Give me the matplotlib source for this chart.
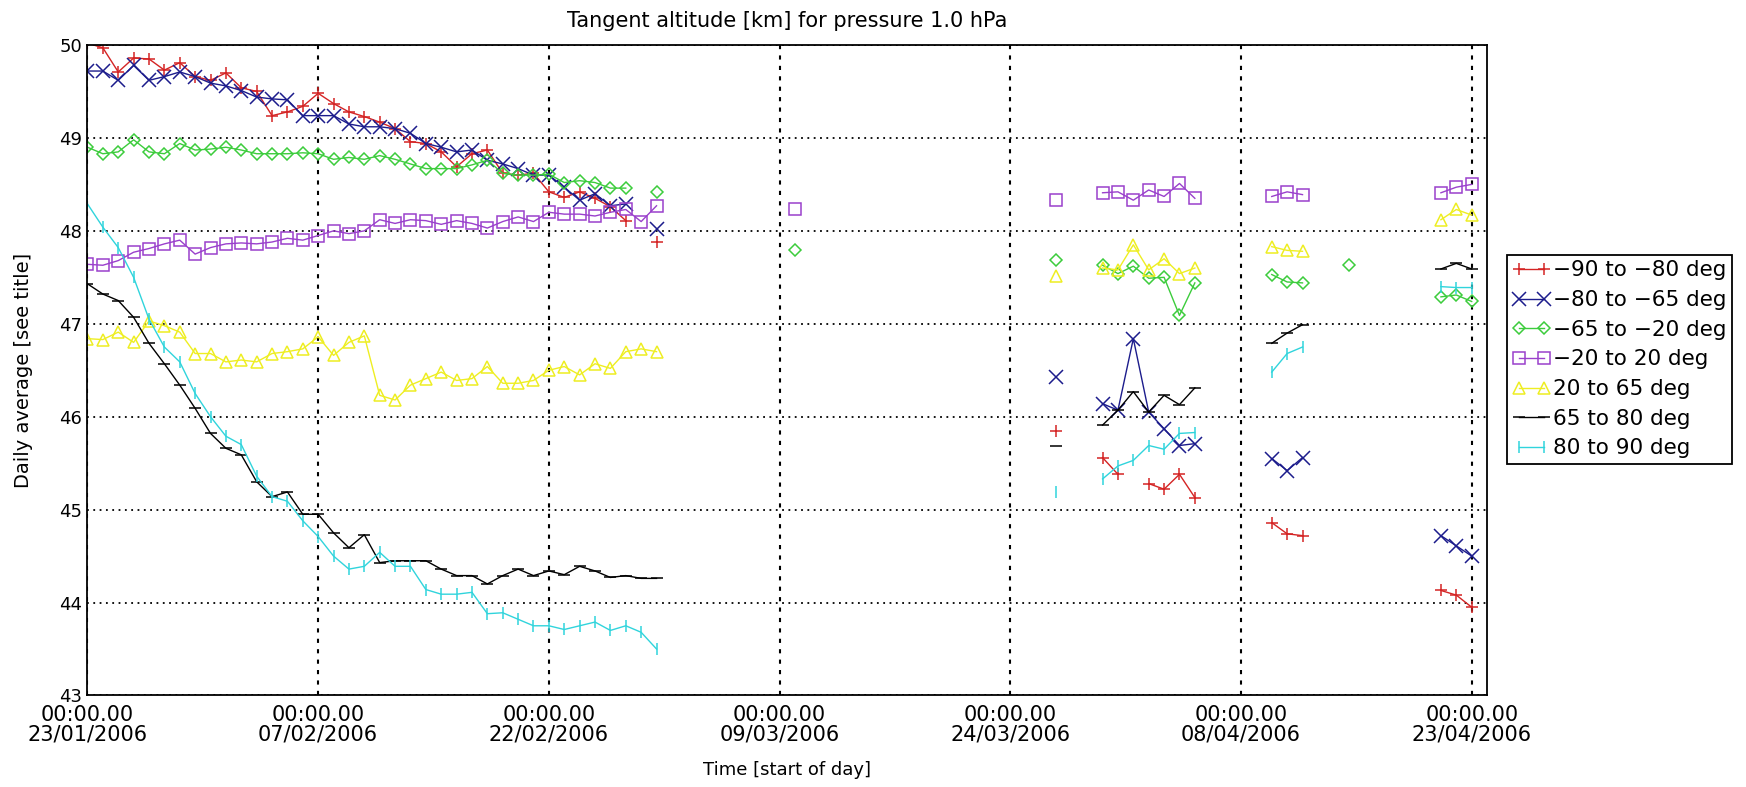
import datetime as dt
import numpy as np
import matplotlib
matplotlib.use("Agg")
import matplotlib.pyplot as plt

nan = np.nan
start_date = dt.datetime(2006, 1, 23)
tick_days = [0, 15, 30, 45, 60, 75, 90]

# daily averages, days counted from 23/01/2006
# block a: days 0-37, b: day 46, c: days 63-72, d: days 77-79, e: day 82, f: days 88-90
red_a = [50.02, 49.97, 49.71, 49.86, 49.85, 49.73, 49.81, 49.66, 49.62, 49.70, 49.54, 49.50,
         49.24, 49.28, 49.34, 49.48, 49.37, 49.28, 49.23, 49.17, 49.10, 48.96, 48.94, 48.85,
         48.69, 48.83, 48.87, 48.62, 48.60, 48.62, 48.42, 48.36, 48.42, 48.35, 48.26, 48.11,
         nan, 47.88]
red_c = [45.85, nan, nan, 45.56, 45.38, nan, 45.28, 45.22, 45.38, 45.13]
red_d = [44.86, 44.74, 44.72]
red_f = [44.13, 44.08, 43.95]

blue_a = [49.72, 49.72, 49.62, 49.78, 49.62, 49.66, 49.71, 49.66, 49.59, 49.56, 49.51, 49.44,
          49.42, 49.41, 49.24, 49.24, 49.24, 49.15, 49.12, 49.12, 49.10, 49.05, 48.94, 48.90,
          48.85, 48.87, 48.76, 48.72, 48.67, 48.60, 48.60, 48.47, 48.33, 48.40, 48.27, 48.29,
          nan, 48.02]
blue_c = [46.43, nan, nan, 46.14, 46.07, 46.84, 46.05, 45.87, 45.69, 45.71]
blue_d = [45.55, 45.42, 45.56]
blue_f = [44.72, 44.61, 44.50]

green_a = [48.90, 48.83, 48.85, 48.98, 48.85, 48.83, 48.94, 48.87, 48.88, 48.90, 48.87, 48.83,
           48.83, 48.83, 48.84, 48.83, 48.77, 48.79, 48.77, 48.81, 48.77, 48.72, 48.67, 48.67,
           48.67, 48.71, 48.76, 48.62, 48.60, 48.60, 48.61, 48.52, 48.54, 48.52, 48.46, 48.46,
           nan, 48.42]
green_b = 47.79
green_c = [47.69, nan, nan, 47.63, 47.54, 47.62, 47.49, 47.50, 47.09, 47.44]
green_d = [47.53, 47.45, 47.44]
green_e = 47.63
green_f = [47.29, 47.31, 47.24]

purple_a = [47.64, 47.63, 47.68, 47.77, 47.81, 47.86, 47.90, 47.75, 47.82, 47.86, 47.87, 47.86,
            47.88, 47.92, 47.90, 47.95, 48.00, 47.97, 48.00, 48.12, 48.08, 48.12, 48.11, 48.07,
            48.11, 48.08, 48.03, 48.10, 48.15, 48.10, 48.20, 48.18, 48.18, 48.16, 48.20, 48.23,
            48.10, 48.27]
purple_b = 48.23
purple_c = [48.33, nan, nan, 48.41, 48.42, 48.33, 48.44, 48.37, 48.51, 48.35]
purple_d = [48.37, 48.42, 48.39]
purple_f = [48.41, 48.47, 48.50]

yellow_a = [46.84, 46.83, 46.91, 46.80, 47.03, 46.98, 46.91, 46.68, 46.68, 46.59, 46.61, 46.59,
            46.68, 46.70, 46.73, 46.86, 46.66, 46.80, 46.87, 46.23, 46.18, 46.34, 46.41, 46.48,
            46.39, 46.41, 46.54, 46.36, 46.36, 46.39, 46.50, 46.54, 46.45, 46.57, 46.52, 46.70,
            46.73, 46.70]
yellow_c = [47.51, nan, nan, 47.60, 47.58, 47.85, 47.58, 47.70, 47.54, 47.60]
yellow_d = [47.83, 47.79, 47.78]
yellow_f = [48.12, 48.23, 48.17]

black_a = [47.43, 47.32, 47.25, 47.07, 46.79, 46.57, 46.34, 46.09, 45.82, 45.66, 45.59, 45.30,
           45.14, 45.19, 44.95, 44.95, 44.75, 44.59, 44.73, 44.43, 44.45, 44.45, 44.45, 44.36,
           44.29, 44.29, 44.20, 44.29, 44.36, 44.29, 44.34, 44.30, 44.39, 44.34, 44.27, 44.29,
           44.26, 44.26]
black_c = [45.69, nan, nan, 45.91, 46.07, 46.27, 46.05, 46.23, 46.13, 46.31]
black_d = [46.79, 46.90, 46.99]
black_f = [47.59, 47.65, 47.59]

cyan_a = [48.29, 48.04, 47.82, 47.50, 47.05, 46.75, 46.59, 46.25, 46.00, 45.79, 45.70, 45.36,
          45.14, 45.09, 44.88, 44.71, 44.50, 44.36, 44.39, 44.54, 44.39, 44.39, 44.14, 44.09,
          44.09, 44.11, 43.88, 43.89, 43.82, 43.75, 43.75, 43.71, 43.75, 43.79, 43.70, 43.75,
          43.68, 43.50]
cyan_c = [45.19, nan, nan, 45.33, 45.47, 45.53, 45.69, 45.65, 45.82, 45.83]
cyan_d = [46.48, 46.68, 46.75]
cyan_f = [47.40, 47.39, 47.39]


def full_series(a, b, c, d, e, f):
    # put the blocks on the daily grid 0..90, NaN where there is no data
    return np.concatenate([a, [nan] * 8, [b], [nan] * 16, c, [nan] * 4, d,
                           [nan] * 2, [e], [nan] * 5, f])


days = np.arange(0, 91)

series = [
    ("\u221290 to \u221280 deg", full_series(red_a, nan, red_c, red_d, nan, red_f),
     "#d42424", "+", 9),
    ("\u221280 to \u221265 deg", full_series(blue_a, nan, blue_c, blue_d, nan, blue_f),
     "#1c1c8c", "x", 10),
    ("\u221265 to \u221220 deg", full_series(green_a, green_b, green_c, green_d, green_e, green_f),
     "#3ccc3c", "D", 6),
    ("\u221220 to 20 deg", full_series(purple_a, purple_b, purple_c, purple_d, nan, purple_f),
     "#9a40cc", "s", 9),
    ("20 to 65 deg", full_series(yellow_a, nan, yellow_c, yellow_d, nan, yellow_f),
     "#eeee22", "^", 8.5),
    ("65 to 80 deg", full_series(black_a, nan, black_c, black_d, nan, black_f),
     "black", "_", 9),
    ("80 to 90 deg", full_series(cyan_a, nan, cyan_c, cyan_d, nan, cyan_f),
     "#30d4dc", "|", 9),
]

plt.rcParams["font.family"] = "DejaVu Sans"
fig = plt.figure(figsize=(17.46, 7.87), dpi=100)
ax = fig.add_axes([0.0501, 0.1163, 0.8016, 0.8265])

for label, vals, color, marker, ms in series:
    ax.plot(days, vals, color=color, lw=1.0, marker=marker, ms=ms,
            mfc="none", mec=color, mew=1.1, label=label)

ax.set_xlim(0, 91)
ax.set_ylim(43, 50)
ax.set_xticks(tick_days)
ax.set_xticklabels(["00:00.00\n" + (start_date + dt.timedelta(days=d)).strftime("%d/%m/%Y")
                    for d in tick_days], fontsize=15, linespacing=0.95)
ax.set_yticks(range(43, 51))
ax.tick_params(axis="y", labelsize=13, length=0, pad=4)
ax.tick_params(axis="x", length=0, pad=7)

ax.xaxis.grid(True, color="black", ls=(0, (2, 3)), lw=1.5)
ax.yaxis.grid(True, color="black", ls=(0, (1, 2.5)), lw=1.3)
for sp in ax.spines.values():
    sp.set_linewidth(1.3)

ax.set_title("Tangent altitude [km] for pressure 1.0 hPa", fontsize=15, pad=13)
ax.set_xlabel("Time [start of day]", fontsize=13)
ax.xaxis.set_label_coords(0.5, -0.1)
ax.set_ylabel("Daily average [see title]", fontsize=14)
ax.yaxis.set_label_coords(-0.039, 0.5)

leg = fig.legend(loc="upper left", bbox_to_anchor=(0.863, 0.676), fontsize=15.5,
                 numpoints=2, handlelength=1.8, handletextpad=0.1, borderpad=0.25,
                 labelspacing=0.45, fancybox=False, framealpha=1, edgecolor="black",
                 borderaxespad=0)
leg.get_frame().set_linewidth(1.3)

fig.savefig("out.png", dpi=100)
